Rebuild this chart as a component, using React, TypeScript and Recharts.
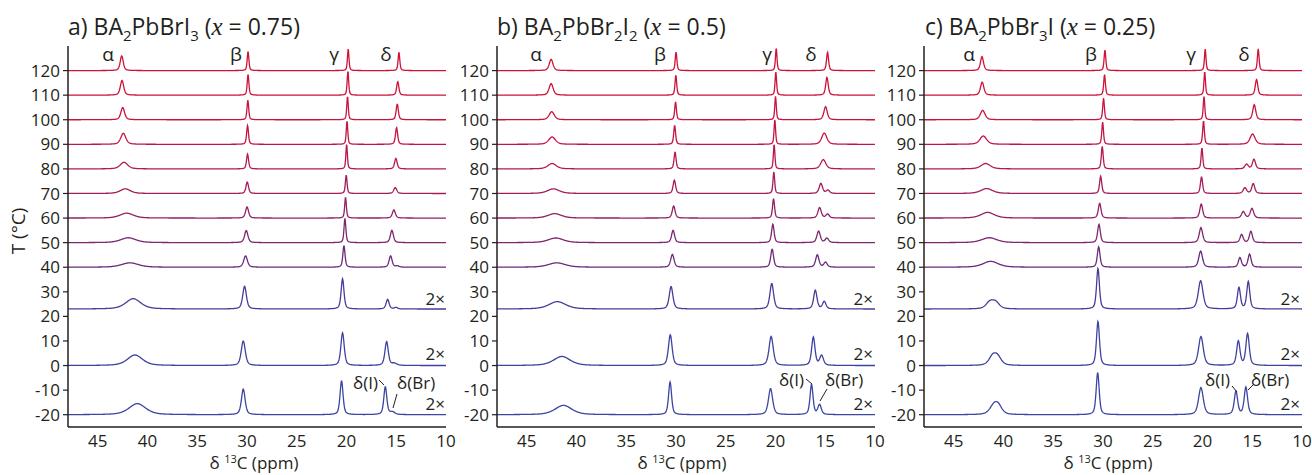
import React from 'react';
import { LineChart, Line, XAxis, YAxis } from 'recharts';

// baseline of each spectrum (°C axis), top to bottom; last three are shown 2x
const offsets = [120, 110, 100, 90, 80, 70, 60, 50, 40, 23, 0, -20];
const lineColors = [
  '#cf1235', '#cd1339', '#c9143f', '#c31545', '#b5194e', '#a41c58',
  '#912163', '#7e266e', '#6a2a7b', '#4a3b98', '#3e43a0', '#3b46a2',
];
const yTicks = [-20, -10, 0, 10, 20, 30, 40, 50, 60, 70, 80, 90, 100, 110, 120];
const xTicks = [45, 40, 35, 30, 25, 20, 15, 10];

// peaks per spectrum: [ppm, height (axis units), half width (ppm)]
type Peak = [number, number, number];

const peaksA: Peak[][] = [
  [[42.6, 6, 0.18], [29.9, 7.7, 0.1], [19.83, 8.8, 0.09], [14.73, 7.5, 0.1]],
  [[42.57, 6, 0.2], [29.9, 8.4, 0.1], [19.86, 9.8, 0.09], [14.85, 5.5, 0.13]],
  [[42.5, 5, 0.22], [29.92, 8, 0.1], [19.9, 9.5, 0.09], [14.9, 6.4, 0.13]],
  [[42.44, 4.5, 0.3], [29.95, 7.7, 0.11], [19.95, 9.5, 0.09], [14.97, 6.8, 0.13]],
  [[42.37, 2.7, 0.45], [29.95, 6.1, 0.12], [19.99, 10, 0.09], [15.04, 4.3, 0.15]],
  [[42.24, 1.9, 0.6], [29.98, 4.7, 0.15], [20.03, 7.5, 0.1], [15.1, 2.4, 0.18]],
  [[42.1, 2, 0.8], [30.0, 4.5, 0.18], [20.1, 8.5, 0.1], [15.24, 3.3, 0.18]],
  [[41.94, 2, 0.9], [30.08, 4.9, 0.2], [20.16, 9.9, 0.11], [15.44, 5, 0.18]],
  [[41.77, 1.8, 1.0], [30.15, 4.6, 0.22], [20.26, 8.7, 0.13], [15.57, 4.6, 0.18], [14.9, 0.5, 0.2]],
  [[41.44, 4.2, 0.9], [30.25, 9.2, 0.22], [20.4, 12.3, 0.17], [15.87, 3.9, 0.18], [15.03, 0.6, 0.2]],
  [[41.27, 4.3, 0.9], [30.38, 10, 0.24], [20.4, 13.3, 0.2], [15.97, 9.7, 0.2], [15.2, 0.8, 0.3]],
  [[41.03, 4.5, 1.0], [30.38, 10.4, 0.22], [20.5, 13.8, 0.18], [16.1, 11.3, 0.18], [15.4, 1, 0.3]],
];

const peaksB: Peak[][] = [
  [[42.56, 4.6, 0.22], [30.0, 7.5, 0.1], [19.93, 9.1, 0.09], [14.77, 7.5, 0.12]],
  [[42.56, 4.7, 0.24], [30.02, 8.1, 0.1], [19.97, 9.5, 0.09], [14.83, 7.2, 0.15]],
  [[42.5, 3.3, 0.3], [30.05, 7.3, 0.1], [20.0, 9.5, 0.09], [14.97, 5.3, 0.2]],
  [[42.46, 3, 0.4], [30.14, 7.7, 0.11], [20.07, 10, 0.09], [15.1, 4.6, 0.3]],
  [[42.46, 2.2, 0.5], [30.1, 6.9, 0.12], [20.14, 10, 0.09], [15.2, 3.8, 0.3]],
  [[42.33, 1.9, 0.7], [30.17, 5.4, 0.15], [20.17, 8.8, 0.1], [15.44, 4.1, 0.2], [14.74, 1.3, 0.2]],
  [[42.2, 1.8, 0.8], [30.24, 4.9, 0.17], [20.2, 7.9, 0.12], [15.57, 4.2, 0.2], [14.77, 1.6, 0.2]],
  [[42.09, 1.9, 0.9], [30.3, 5, 0.18], [20.27, 7.5, 0.15], [15.67, 4.7, 0.2], [14.83, 1.8, 0.2]],
  [[41.99, 1.8, 1.0], [30.37, 5.2, 0.2], [20.34, 7.3, 0.17], [15.8, 5, 0.2], [14.97, 2, 0.2]],
  [[41.93, 3, 1.0], [30.5, 9.1, 0.22], [20.38, 10.4, 0.22], [16.0, 7.6, 0.2], [15.1, 3, 0.2]],
  [[41.48, 3.7, 1.0], [30.58, 12.5, 0.22], [20.44, 11.8, 0.25], [16.2, 11.5, 0.2], [15.37, 4, 0.22]],
  [[41.32, 3.8, 1.0], [30.6, 13.3, 0.18], [20.5, 10.6, 0.25], [16.38, 12.2, 0.18], [15.57, 4, 0.2]],
];

const peaksC: Peak[][] = [
  [[42.17, 5.7, 0.18], [29.81, 8.4, 0.1], [19.73, 8.8, 0.09], [14.4, 8.8, 0.1]],
  [[42.15, 5.3, 0.2], [29.85, 8.4, 0.1], [19.78, 9.5, 0.09], [14.57, 6.4, 0.15]],
  [[42.1, 3.8, 0.28], [29.95, 8.8, 0.1], [19.85, 9.5, 0.09], [14.8, 6.1, 0.18]],
  [[42.04, 3.4, 0.4], [30.04, 9, 0.1], [19.9, 9.5, 0.1], [14.97, 4.2, 0.3]],
  [[41.8, 2.2, 0.55], [30.08, 9.2, 0.11], [20.06, 8.5, 0.1], [15.57, 1.9, 0.2], [14.83, 3.9, 0.18]],
  [[41.7, 2, 0.7], [30.24, 7, 0.13], [20.1, 6.8, 0.13], [15.74, 2.3, 0.2], [14.9, 4, 0.18]],
  [[41.6, 2.3, 0.8], [30.34, 6, 0.16], [20.13, 5.7, 0.17], [15.9, 2.6, 0.2], [15.03, 3.9, 0.2]],
  [[41.44, 2, 0.9], [30.41, 7.5, 0.16], [20.16, 6.1, 0.2], [16.07, 3.3, 0.18], [15.14, 4.6, 0.18]],
  [[41.3, 2.4, 0.9], [30.44, 8.3, 0.16], [20.19, 6.6, 0.22], [16.24, 3.9, 0.18], [15.27, 5.3, 0.18]],
  [[41.4, 2.6, 0.45], [40.8, 2.6, 0.45], [30.51, 16.5, 0.17], [20.19, 11.5, 0.28], [16.34, 8.7, 0.18], [15.4, 11.1, 0.18]],
  [[41.1, 3.4, 0.45], [40.6, 3.2, 0.45], [30.51, 17.9, 0.18], [20.16, 11.8, 0.28], [16.4, 9.8, 0.2], [15.47, 12.9, 0.2]],
  [[41.0, 3.2, 0.5], [40.55, 3.2, 0.45], [30.54, 17.1, 0.18], [20.16, 11, 0.28], [16.64, 9.4, 0.2], [15.64, 11.1, 0.2]],
];

const INK = '#231f20';

// chemical shift grid the spectra are sampled on
const ppmGrid: number[] = [];
for (let i = 0; i <= 950; i++) ppmGrid.push(+(48 - i * 0.04).toFixed(2));

// pseudo-Voigt line shape
const lineShape = (x: number, [c, h, w]: Peak) => {
  const d = (x - c) / w;
  return h * (0.5 / (1 + d * d) + 0.5 * Math.exp(-Math.LN2 * d * d));
};

const buildRows = (peaks: Peak[][]) =>
  ppmGrid.map((ppm) => {
    const row: Record<string, number> = { ppm };
    peaks.forEach((list, i) => {
      row['s' + i] = offsets[i] + list.reduce((sum, p) => sum + lineShape(ppm, p), 0);
    });
    return row;
  });

const rowsA = buildRows(peaksA);
const rowsB = buildRows(peaksB);
const rowsC = buildRows(peaksC);

const Panel = ({ rows, left }: { rows: Record<string, number>[]; left: number }) => (
  <div style={{ position: 'absolute', left, top: 0 }}>
    <LineChart width={460} height={468} data={rows} margin={{ top: 46, right: 22, bottom: 0, left: 0 }}>
      <XAxis
        type="number"
        dataKey="ppm"
        domain={[10, 48]}
        reversed
        allowDataOverflow
        ticks={xTicks}
        interval={0}
        tickLine={false}
        tickSize={0}
        tickMargin={8}
        height={41}
        axisLine={{ stroke: INK, strokeWidth: 1.5 }}
        tick={{ fill: INK, fontSize: 17 }}
      />
      <YAxis
        type="number"
        domain={[-25, 130]}
        allowDataOverflow
        ticks={yTicks}
        interval={0}
        width={60}
        tickSize={5}
        tickMargin={3}
        axisLine={{ stroke: INK, strokeWidth: 1.5 }}
        tickLine={{ stroke: INK, strokeWidth: 1.2 }}
        tick={{ fill: INK, fontSize: 17 }}
      />
      {offsets.map((_, i) => (
        <Line
          key={i}
          type="linear"
          dataKey={'s' + i}
          stroke={lineColors[i]}
          strokeWidth={1.3}
          dot={false}
          isAnimationActive={false}
        />
      ))}
    </LineChart>
  </div>
);

// title pieces: [text, subscript?]
const Title = ({ x, parts, xval }: { x: number; parts: [string, boolean][]; xval: string }) => {
  let prevSub = false;
  return (
    <text x={x} y={35} fontSize={23} fill={INK}>
      {parts.map(([t, sub], i) => {
        const dy = sub && !prevSub ? 6 : !sub && prevSub ? -6 : 0;
        prevSub = sub;
        return (
          <tspan key={i} dy={dy} fontSize={sub ? 15 : 23}>
            {t}
          </tspan>
        );
      })}
      <tspan dy={prevSub ? -6 : 0}> (</tspan>
      <tspan fontFamily="Liberation Serif" fontStyle="italic" fontSize={25}>x</tspan>
      <tspan>{' = ' + xval + ')'}</tspan>
    </text>
  );
};

const greek = ['α', 'β', 'γ', 'δ'];
const greekX = [
  [108, 236, 334, 386],
  [536, 660, 767, 811],
  [969, 1091, 1191, 1244],
];
const plotCenters = [254, 682, 1108];
const plotRights = [445, 873, 1300];

export default function App() {
  return (
    <div
      style={{
        position: 'absolute',
        left: 0,
        top: 0,
        width: 1312,
        height: 475,
        overflow: 'hidden',
        background: '#fff',
        fontFamily: '"Open Sans", sans-serif',
      }}
    >
      <Panel rows={rowsA} left={8} />
      <Panel rows={rowsB} left={437} />
      <Panel rows={rowsC} left={864} />
      <svg width={1312} height={475} style={{ position: 'absolute', left: 0, top: 0, pointerEvents: 'none' }}>
        <Title x={68} parts={[['a) BA', false], ['2', true], ['PbBrI', false], ['3', true]]} xval="0.75" />
        <Title x={497} parts={[['b) BA', false], ['2', true], ['PbBr', false], ['2', true], ['I', false], ['2', true]]} xval="0.5" />
        <Title x={925} parts={[['c) BA', false], ['2', true], ['PbBr', false], ['3', true], ['I', false]]} xval="0.25" />
        {greekX.map((xs, p) =>
          xs.map((gx, i) => (
            <text key={p + '-' + i} x={gx} y={61} fontSize={19} fill={INK} textAnchor="middle">
              {greek[i]}
            </text>
          ))
        )}
        <text x={20} y={231} fontSize={19} fill={INK} textAnchor="middle" transform="rotate(-90 20 231)" dominantBaseline="middle">
          T (°C)
        </text>
        {plotCenters.map((cx, p) => (
          <text key={'xt' + p} x={cx} y={469} fontSize={17} fill={INK} textAnchor="middle">
            δ <tspan fontSize={11} dy={-6}>13</tspan>
            <tspan dy={6}>C (ppm)</tspan>
          </text>
        ))}
        {plotRights.map((rx, p) =>
          [305, 360, 410].map((by) => (
            <text key={'m' + p + by} x={rx} y={by} fontSize={17} fill={INK} textAnchor="end">
              2×
            </text>
          ))
        )}
        {/* delta(I) / delta(Br) labels and leaders */}
        <text x={353} y={389} fontSize={17} fill={INK}>δ(I)</text>
        <text x={397} y={389} fontSize={17} fill={INK}>δ(Br)</text>
        <line x1={379} y1={380} x2={384} y2={385} stroke={INK} strokeWidth={1} />
        <line x1={397} y1={394} x2={393} y2={408} stroke={INK} strokeWidth={1} />

        <text x={779} y={386} fontSize={17} fill={INK}>δ(I)</text>
        <text x={825} y={386} fontSize={17} fill={INK}>δ(Br)</text>
        <line x1={806} y1={379} x2={812} y2={384} stroke={INK} strokeWidth={1} />
        <line x1={827} y1={389} x2={820} y2={401} stroke={INK} strokeWidth={1} />

        <text x={1205} y={386} fontSize={17} fill={INK}>δ(I)</text>
        <text x={1251} y={386} fontSize={17} fill={INK}>δ(Br)</text>
        <line x1={1232} y1={386} x2={1237} y2={392} stroke={INK} strokeWidth={1} />
        <line x1={1253} y1={385} x2={1248} y2={390} stroke={INK} strokeWidth={1} />
      </svg>
    </div>
  );
}
